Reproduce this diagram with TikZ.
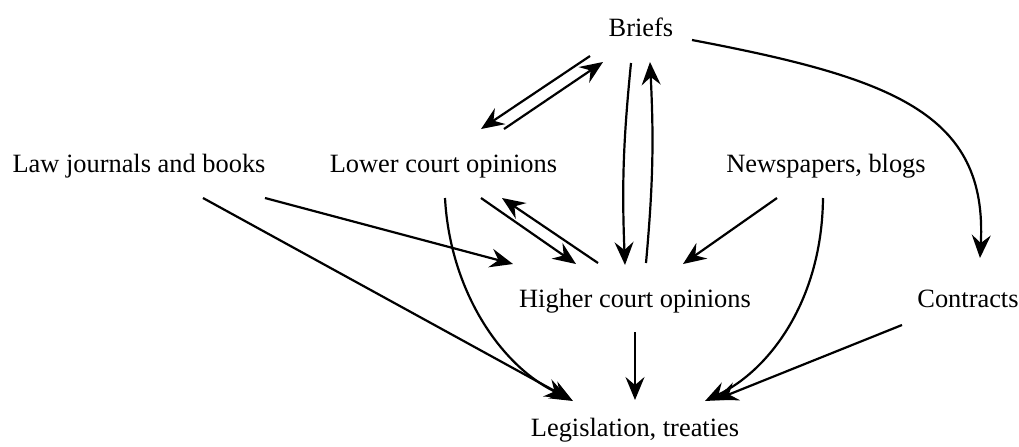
\documentclass[tikz,border=0pt]{standalone}
\usepackage{fontspec}
\setmainfont{Liberation Serif}
\usetikzlibrary{arrows.meta}
\begin{document}
\begin{tikzpicture}[x=0.5pt,y=-0.5pt,
  lbl/.style={anchor=base, inner sep=0pt, font=\fontsize{13.2}{15}\selectfont},
  arr/.style={-{Stealth[length=11.5pt,width=9.5pt,inset=4pt]}, line width=1.1pt}]
\useasboundingbox (0,0) rectangle (1019,446);
\node[lbl] (briefs)    at (641,36)  {Briefs};
\node[lbl] (law)       at (139,172) {Law journals and books};
\node[lbl] (lower)     at (443.5,172) {Lower court opinions};
\node[lbl] (news)      at (826,172) {Newspapers, blogs};
\node[lbl] (higher)    at (635,307) {Higher court opinions};
\node[lbl] (contracts) at (968,307) {Contracts};
\node[lbl] (legis)     at (635,436) {Legislation, treaties};

% Briefs <-> Lower
\draw[arr] ([shift={(-51,20)}]briefs.base) -- ([shift={(37.5,-43)}]lower.base);
\draw[arr] ([shift={(60.5,-43)}]lower.base) -- ([shift={(-38,26)}]briefs.base);
% Briefs <-> Higher
\draw[arr] ([shift={(-10,27)}]briefs.base) to[bend right=4] ([shift={(-10,-42)}]higher.base);
\draw[arr] ([shift={(11,-44)}]higher.base) to[bend right=4] ([shift={(9,26)}]briefs.base);
% Briefs -> Contracts
\draw[arr] ([shift={(51,4)}]briefs.base) .. controls +(200,38) and +(8,-145) .. ([shift={(12,-49)}]contracts.base);
% Law journals
\draw[arr] ([shift={(64,26)}]law.base) -- ([shift={(-62,-35)}]legis.base);
\draw[arr] ([shift={(126,26)}]law.base) -- ([shift={(-122,-43)}]higher.base);
% Lower
\draw[arr] ([shift={(1.5,26)}]lower.base) .. controls +(5,92) and +(-68,-33) .. ([shift={(-67,-38)}]legis.base);
\draw[arr] ([shift={(37.5,26)}]lower.base) -- ([shift={(-59,-43)}]higher.base);
\draw[arr] ([shift={(-37,-44)}]higher.base) -- ([shift={(58.5,26)}]lower.base);
% Newspapers
\draw[arr] ([shift={(-49,26)}]news.base) -- ([shift={(48,-43)}]higher.base);
\draw[arr] ([shift={(-3,26)}]news.base) .. controls +(-1,102) and +(65,-31) .. ([shift={(70,-35)}]legis.base);
% Higher -> Legislation
\draw[arr] ([shift={(0,25)}]higher.base) -- ([shift={(0,-36)}]legis.base);
% Contracts -> Legislation
\draw[arr] ([shift={(-66,18)}]contracts.base) -- ([shift={(80,-36)}]legis.base);
\end{tikzpicture}
\end{document}
